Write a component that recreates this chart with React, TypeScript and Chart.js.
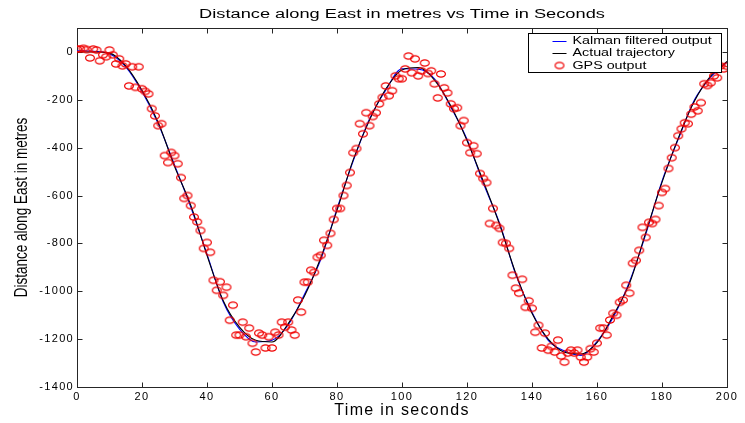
import React, { useEffect, useRef } from 'react';
import { Chart, registerables } from 'chart.js';

Chart.register(...registerables);

const FONT = '"Liberation Sans", Arial, Helvetica, sans-serif';

const chartTitle = 'Distance along East in metres vs Time in Seconds';
const xAxisTitle = 'Time in seconds';
const yAxisTitle = 'Distance along East in metres';
const seriesLabels = ['Kalman filtered output', 'Actual trajectory', 'GPS output'];

const trackTimes = [0, 5, 10, 15, 20, 25, 30, 35, 40, 45, 50, 55, 60, 65, 70, 75, 80, 85, 90, 95, 100,
  105, 110, 115, 120, 125, 130, 135, 140, 145, 150, 155, 160, 165, 170, 175, 180, 185, 190, 195, 200];

const actualTrajectory = [0, 0, -5, -58, -160, -295, -478, -640, -850, -1040, -1150, -1205, -1212, -1135,
  -1020, -860, -662, -450, -285, -155, -75, -65, -118, -225, -370, -540, -720, -925, -1092, -1200, -1255,
  -1262, -1215, -1100, -967, -755, -545, -360, -205, -100, -40];

const kalmanOutput = [5, 3, -8, -62, -165, -300, -472, -648, -845, -1045, -1158, -1212, -1205, -1140,
  -1012, -868, -655, -455, -280, -160, -70, -72, -112, -230, -365, -548, -715, -930, -1088, -1205, -1250,
  -1268, -1210, -1108, -960, -762, -540, -365, -200, -105, -42];

const gpsOutput = [
  12, 12, 15, 10, -25, 12, 8, -37, -12, -20,
  8, -12, -50, -29, -58, -50, -142, -62, -148, -62,
  -154, -165, -175, -237, -267, -308, -300, -433, -462, -420,
  -433, -467, -525, -612, -600, -642, -690, -710, -746, -821,
  -796, -837, -954, -996, -960, -1017, -983, -1121, -1058, -1183,
  -1183, -1129, -1190, -1154, -1217, -1254, -1175, -1183, -1237, -1190,
  -1237, -1171, -1183, -1129, -1150, -1129, -1162, -1183, -1037, -1087,
  -962, -962, -912, -921, -858, -850, -787, -808, -758, -700,
  -654, -654, -600, -558, -504, -421, -404, -300, -342, -254,
  -308, -270, -254, -217, -190, -142, -183, -162, -100, -112,
  -112, -71, -17, -87, -29, -100, -79, -46, -90, -79,
  -133, -192, -92, -150, -171, -217, -237, -233, -308, -287,
  -379, -421, -392, -425, -508, -529, -546, -717, -654, -725,
  -737, -796, -800, -821, -933, -987, -1008, -950, -1067, -1040,
  -1071, -1171, -1142, -1237, -1175, -1246, -1230, -1254, -1204, -1270,
  -1296, -1258, -1246, -1258, -1246, -1275, -1296, -1275, -1240, -1254,
  -1217, -1154, -1154, -1183, -1120, -1092, -1100, -1046, -1037, -975,
  -1008, -883, -871, -829, -733, -775, -712, -717, -700, -642,
  -587, -571, -487, -442, -400, -350, -321, -296, -300, -260,
  -230, -246, -212, -133, -140, -129, -100, -108, -58, -71,
  -60,
];
const gpsTimes = gpsOutput.map((_, i) => i);

const xTickValues = [0, 20, 40, 60, 80, 100, 120, 140, 160, 180, 200];
const yTickValues = [-1400, -1200, -1000, -800, -600, -400, -200, 0];

function makeMarker(): HTMLCanvasElement {
  const c = document.createElement('canvas');
  c.width = 12;
  c.height = 10;
  const g = c.getContext('2d')!;
  g.strokeStyle = '#f00000';
  g.lineWidth = 1.2;
  g.beginPath();
  g.ellipse(6, 5, 4.4, 3.2, 0, 0, Math.PI * 2);
  g.stroke();
  return c;
}

export default function App() {
  const ref = useRef<HTMLCanvasElement>(null);

  useEffect(() => {
    const marker = makeMarker();

    const matlabPlugin = {
      id: 'matlabLook',
      beforeDraw(chart: any) {
        chart.ctx.letterSpacing = '1.3px';
      },
      beforeDatasetsDraw(chart: any) {
        const { ctx, chartArea: a, scales } = chart;
        ctx.save();
        ctx.strokeStyle = '#262626';
        ctx.lineWidth = 1;
        const L = Math.round(a.left) + 0.5;
        const R = Math.round(a.right) + 0.5;
        const T = Math.round(a.top) + 0.5;
        const B = Math.round(a.bottom) + 0.5;
        ctx.strokeRect(L, T, R - L, B - T);
        const len = 5;
        ctx.beginPath();
        xTickValues.forEach((v) => {
          const px = Math.round(scales.x.getPixelForValue(v)) + 0.5;
          ctx.moveTo(px, B); ctx.lineTo(px, B - len);
          ctx.moveTo(px, T); ctx.lineTo(px, T + len);
        });
        yTickValues.forEach((v) => {
          const py = Math.round(scales.y.getPixelForValue(v)) + 0.5;
          ctx.moveTo(L, py); ctx.lineTo(L + len, py);
          ctx.moveTo(R, py); ctx.lineTo(R - len, py);
        });
        ctx.stroke();
        ctx.restore();
      },
      afterDatasetsDraw(chart: any) {
        const { ctx, chartArea: a } = chart;
        ctx.save();
        const w = 193, h = 39;
        const left = Math.round(a.right - 6 - w) + 0.5;
        const top = Math.round(a.top + 5) + 0.5;
        ctx.fillStyle = '#ffffff';
        ctx.fillRect(left, top, w, h);
        ctx.strokeStyle = '#000000';
        ctx.lineWidth = 1;
        ctx.strokeRect(left, top, w, h);
        const ds = chart.data.datasets;
        const rows = [top + 7, top + 19.5, top + 32];
        ctx.font = `11px ${FONT}`;
        ctx.textBaseline = 'middle';
        ctx.textAlign = 'left';
        ctx.letterSpacing = '0px';
        ds.forEach((d: any, i: number) => {
          const cy = rows[i];
          if (d.showLine) {
            ctx.strokeStyle = d.borderColor;
            ctx.beginPath();
            ctx.moveTo(left + 24, Math.round(cy) + 0.5);
            ctx.lineTo(left + 38, Math.round(cy) + 0.5);
            ctx.stroke();
          } else {
            ctx.drawImage(marker, left + 31 - 6, cy - 5);
          }
          ctx.save();
          ctx.translate(left + 44, cy);
          ctx.scale(1.3, 1);
          ctx.fillStyle = '#000';
          ctx.fillText(d.label, 0, 0);
          ctx.restore();
        });
        ctx.restore();
      },
      afterDraw(chart: any) {
        const { ctx, chartArea: a } = chart;
        ctx.save();
        ctx.letterSpacing = '0px';
        ctx.fillStyle = '#000';
        ctx.font = `12px ${FONT}`;
        ctx.textAlign = 'center';
        ctx.textBaseline = 'alphabetic';
        ctx.save();
        ctx.translate((a.left + a.right) / 2, 18);
        ctx.scale(1.52, 1);
        ctx.fillText(chartTitle, 0, 0);
        ctx.restore();
        ctx.font = `13.5px ${FONT}`;
        ctx.textBaseline = 'middle';
        ctx.save();
        ctx.translate(22, (a.top + a.bottom) / 2);
        ctx.rotate(-Math.PI / 2);
        ctx.scale(1, 1.3);
        ctx.fillText(yAxisTitle, 0, 0);
        ctx.restore();
        ctx.restore();
      },
    };

    const chart = new Chart(ref.current!, {
      type: 'scatter',
      data: {
        datasets: [
          {
            label: seriesLabels[0],
            data: trackTimes.map((t, i) => ({ x: t, y: kalmanOutput[i] })),
            showLine: true,
            borderColor: '#0000ff',
            borderWidth: 1.1,
            pointRadius: 0,
            cubicInterpolationMode: 'monotone',
            order: 3,
          },
          {
            label: seriesLabels[1],
            data: trackTimes.map((t, i) => ({ x: t, y: actualTrajectory[i] })),
            showLine: true,
            borderColor: '#000000',
            borderWidth: 1.1,
            pointRadius: 0,
            cubicInterpolationMode: 'monotone',
            order: 2,
          },
          {
            label: seriesLabels[2],
            data: gpsTimes.map((t, i) => ({ x: t, y: gpsOutput[i] })),
            showLine: false,
            pointStyle: marker as any,
            pointRadius: 4,
            borderColor: '#f00000',
            backgroundColor: 'rgba(0,0,0,0)',
            order: 1,
          },
        ] as any,
      },
      options: {
        responsive: true,
        maintainAspectRatio: false,
        animation: false,
        layout: { padding: { top: 28, right: 18, left: 0, bottom: 0 } },
        plugins: {
          legend: { display: false },
          title: { display: false },
          tooltip: { enabled: false },
        },
        scales: {
          x: {
            type: 'linear',
            min: 0,
            max: 200,
            afterBuildTicks: (s: any) => { s.ticks = xTickValues.map((v) => ({ value: v })); },
            afterFit: (s: any) => { s.height = 36; },
            grid: { display: false, drawTicks: false },
            border: { display: false },
            ticks: {
              color: '#000', padding: 3, maxRotation: 0, font: { family: FONT, size: 11 },
              callback: (v: any) => String(v),
            },
            title: {
              display: true,
              text: xAxisTitle,
              color: '#000',
              font: { family: FONT, size: 16 },
              padding: { top: 0, bottom: 3 },
            },
          },
          y: {
            type: 'linear',
            min: -1400,
            max: 100,
            afterBuildTicks: (s: any) => { s.ticks = yTickValues.map((v) => ({ value: v })); },
            afterFit: (s: any) => { s.width = 77; },
            grid: { display: false, drawTicks: false },
            border: { display: false },
            ticks: {
              color: '#000', padding: 3, font: { family: FONT, size: 11 },
              callback: (v: any) => String(v),
            },
            title: { display: false, text: yAxisTitle },
          },
        },
      } as any,
      plugins: [matlabPlugin],
    });
    return () => chart.destroy();
  }, []);

  return (
    <div style={{ position: 'fixed', left: 0, top: 0, width: 745, height: 423, background: '#fff' }}>
      <canvas ref={ref} />
    </div>
  );
}
